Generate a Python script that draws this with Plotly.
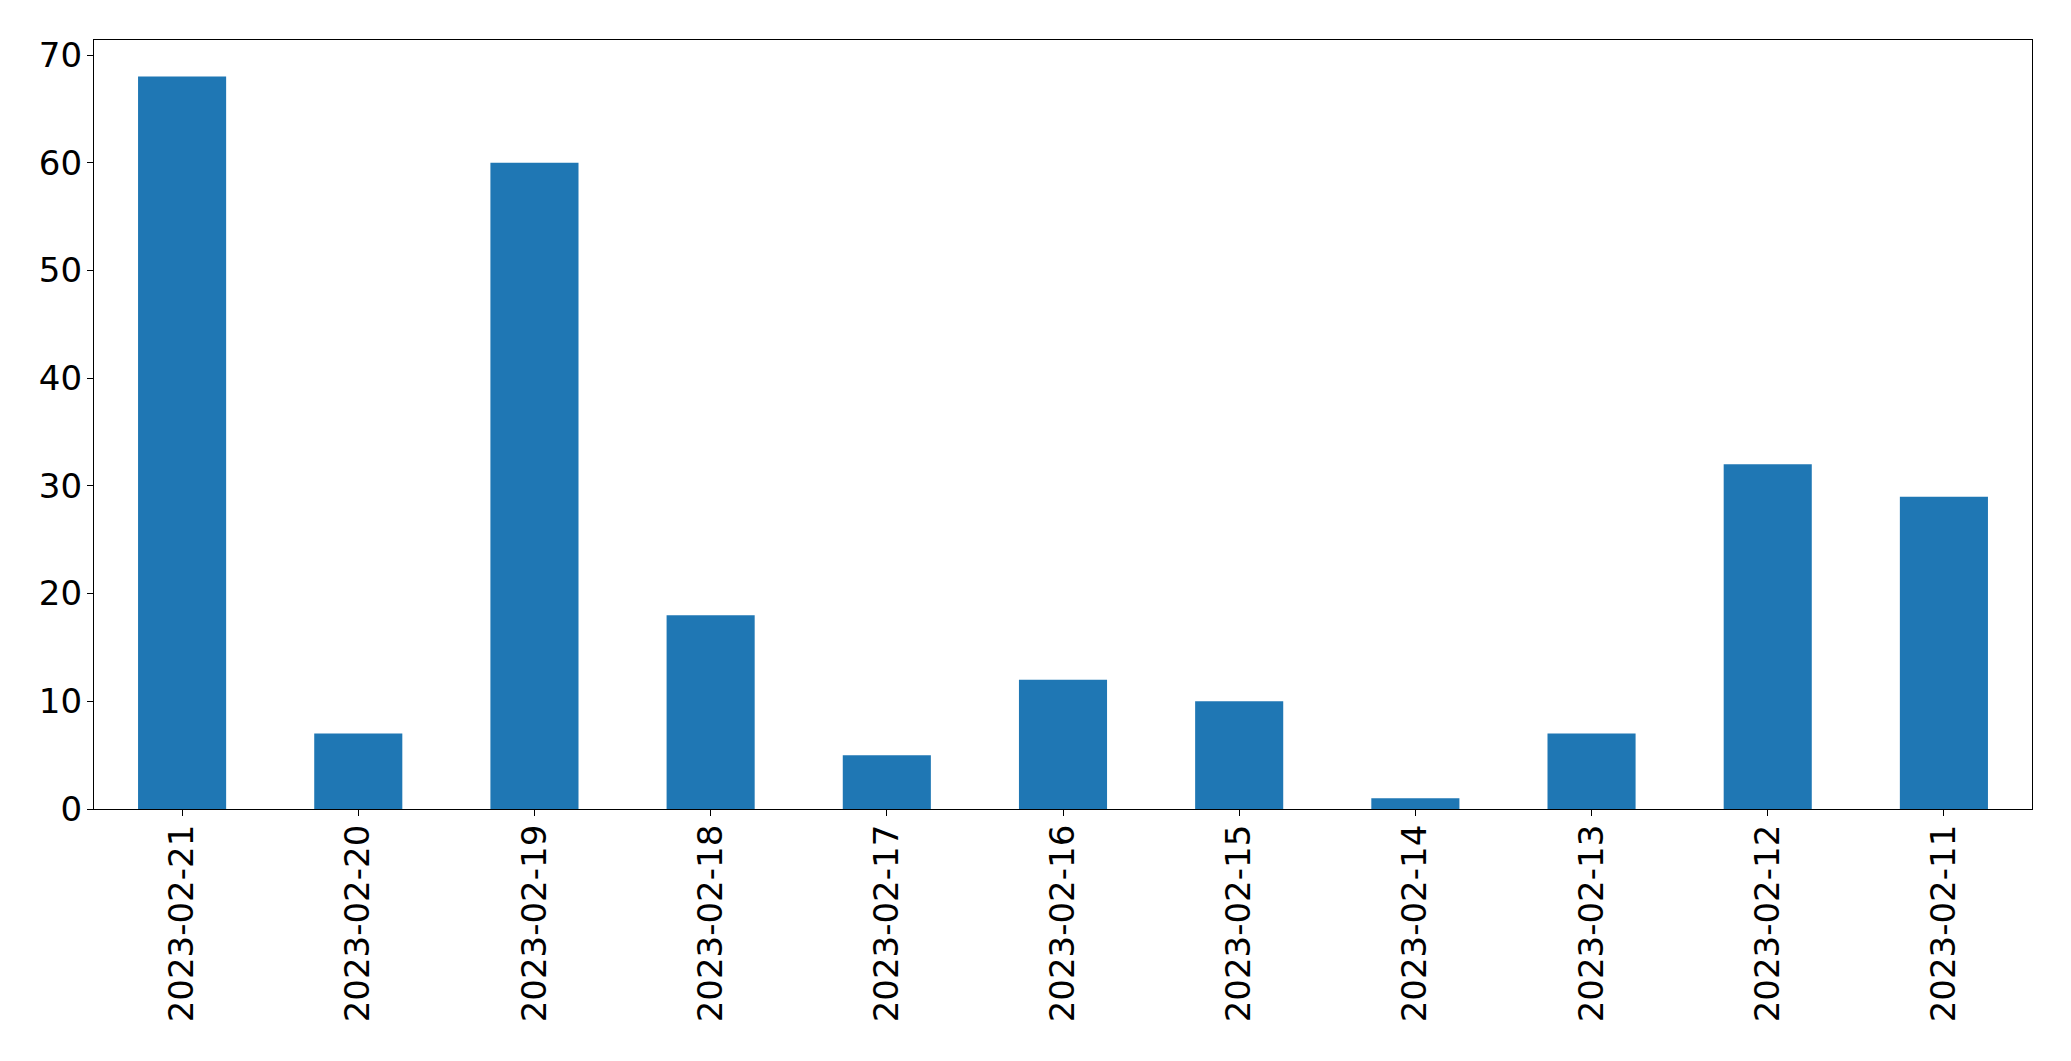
import plotly.graph_objects as go

dates = ["2023-02-21", "2023-02-20", "2023-02-19", "2023-02-18", "2023-02-17",
         "2023-02-16", "2023-02-15", "2023-02-14", "2023-02-13", "2023-02-12", "2023-02-11"]
counts = [68, 7, 60, 18, 5, 12, 10, 1, 7, 32, 29]
y_ticks = [0, 10, 20, 30, 40, 50, 60, 70]

fig = go.Figure(go.Bar(x=dates, y=counts, marker=dict(color="#1f77b4", line=dict(width=0)), width=0.5))

axis_common = dict(showline=True, linecolor="black", linewidth=1.3, mirror=True,
                   ticks="outside", ticklen=6, tickwidth=1.3, tickcolor="black",
                   showgrid=False, zeroline=False,
                   tickfont=dict(family="DejaVu Sans", size=34, color="black"))

fig.update_layout(
    width=2071, height=1061,
    margin=dict(l=94, r=39, t=40, b=252),
    paper_bgcolor="white", plot_bgcolor="white",
    showlegend=False,
    xaxis=dict(type="category", range=[-0.5, 10.5], tickangle=-90, ticklabelstandoff=-5, **axis_common),
    yaxis=dict(range=[0, 71.4], tickvals=y_ticks, ticklabelstandoff=-2, **axis_common),
)

fig.write_html("out.html", config={"displayModeBar": False},
               post_script="document.body.style.margin='0';document.body.style.overflow='hidden';")
